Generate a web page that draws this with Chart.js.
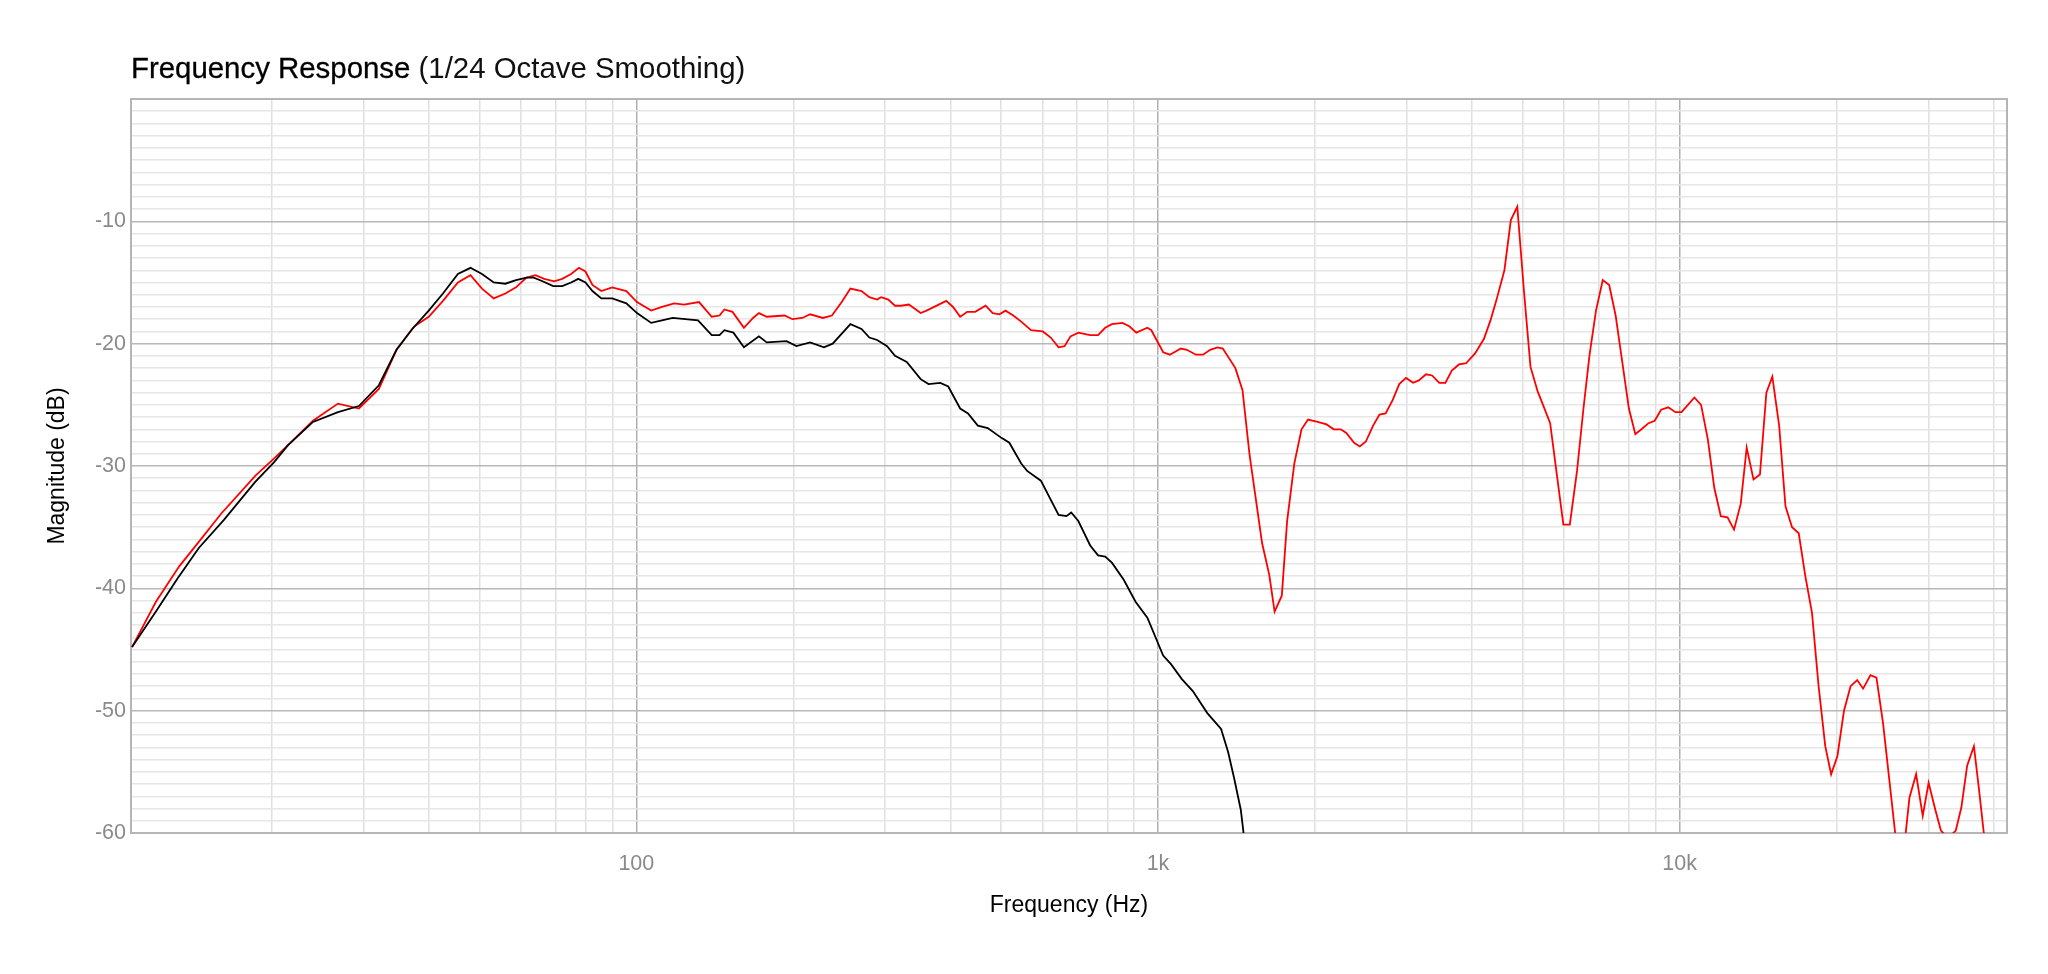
<!DOCTYPE html>
<html>
<head>
<meta charset="utf-8">
<title>Frequency Response</title>
<script src="https://cdn.jsdelivr.net/npm/chart.js@4.4.1/dist/chart.umd.min.js"></script>
<style>
  html, body { margin: 0; padding: 0; background: #fff; }
  #wrap { width: 2048px; height: 974px; }
</style>
</head>
<body>
<div id="wrap"><canvas id="fr" width="2048" height="974"></canvas></div>
<script>
// black trace (Hz / dB)
const blackFreq = [10.8, 12.0, 13.2, 14.5, 16.2, 18.6, 20.2, 21.5, 24.0, 26.8, 29.4, 32.1, 34.7, 37.2, 40.0, 42.6, 45.5, 48.1, 50.6, 53.3,
  56.1, 58.8, 61.6, 63.6, 66.1, 69.3, 72.1, 75.0, 77.4, 79.9, 82.4, 85.7, 89.9, 95.7, 100.3, 106.8, 112.0, 117.4, 131.3, 139.5,
  144.4, 147.5, 153.5, 160.8, 171.8, 177.8, 194.1, 202.7, 215.4, 228.9, 237.9, 257.3, 270.2, 279.7, 289.5, 302.5, 313.2, 329.9, 350.8, 363.2,
  382.6, 396.2, 417.6, 432.3, 451.5, 471.6, 501, 518.8, 546.7, 561.2, 596.3, 644.8, 667.6, 681.8, 703.5, 741.3, 767.5, 792, 815.8, 859.6,
  905.6, 954.1, 1023, 1059, 1110, 1166, 1243, 1321, 1363, 1399, 1441, 1457, 1480];
const blackDb = [-44.8, -41.9, -39.2, -36.7, -34.4, -31.3, -29.7, -28.3, -26.4, -25.6, -25.1, -23.4, -20.5, -18.8, -17.3, -15.9, -14.3, -13.8, -14.3, -15.0,
  -15.1, -14.8, -14.6, -14.6, -14.9, -15.3, -15.3, -15.0, -14.7, -15.0, -15.7, -16.3, -16.3, -16.7, -17.5, -18.3, -18.1, -17.9, -18.1, -19.3,
  -19.3, -18.9, -19.1, -20.3, -19.4, -19.9, -19.8, -20.2, -19.9, -20.3, -20.0, -18.4, -18.8, -19.5, -19.7, -20.2, -21.0, -21.5, -22.9, -23.3,
  -23.2, -23.5, -25.3, -25.7, -26.7, -26.9, -27.7, -28.1, -29.8, -30.4, -31.2, -34.0, -34.1, -33.8, -34.5, -36.5, -37.3, -37.4, -37.9, -39.3,
  -41.1, -42.4, -45.5, -46.2, -47.4, -48.4, -50.2, -51.5, -53.4, -55.5, -58.1, -59.8, -63.0];

// red trace (Hz / dB)
const redFreq = [10.8, 12.0, 13.3, 14.5, 16.0, 18.6, 20.2, 21.5, 24.0, 26.8, 29.4, 32.1, 34.7, 37.5, 40.0, 42.6, 45.5, 48.1, 50.6, 53.3,
  56.1, 58.8, 61.6, 64.1, 66.6, 69.6, 72.1, 75.0, 77.6, 79.9, 82.4, 85.7, 89.9, 95.7, 100.3, 106.8, 112.0, 118.2, 123.4, 131.9,
  139.5, 144.4, 147.5, 152.9, 160.8, 167.4, 171.8, 177.8, 192.4, 199.2, 208.1, 215.4, 227.8, 237.1, 247.6, 257.3, 270.2, 279.7, 289.5, 294.6,
  304.1, 313.2, 321.6, 333.0, 350.8, 360.0, 392.8, 404.6, 417.6, 430.8, 446.1, 467.3, 482.2, 496.7, 510.0, 528.0, 546.7, 570.9, 601.5, 622.8,
  644.8, 662.0, 679.6, 703.5, 741.3, 767.5, 792.0, 815.8, 855.0, 882.2, 908.6, 954.1, 971, 1023, 1054, 1106, 1136, 1182, 1220, 1259,
  1300, 1331, 1407, 1452, 1498, 1583, 1634, 1673, 1727, 1768, 1825, 1884, 1939, 2023, 2104, 2172, 2241, 2296, 2376, 2437,
  2503, 2584, 2658, 2731, 2818, 2900, 2988, 3083, 3162, 3264, 3353, 3461, 3555, 3657, 3775, 3895, 4053, 4215, 4338, 4456,
  4613, 4746, 4883, 5031, 5176, 5342, 5470, 5645, 5826, 5984, 6157, 6356, 6539, 6718, 6911, 7121, 7326, 7537, 7743, 7991,
  8222, 8445, 8716, 8954, 9212, 9507, 9813, 10080, 10370, 10670, 10990, 11320, 11650, 11990, 12350, 12710, 13090, 13440, 13850, 14250,
  14660, 15050, 15510, 15950, 16420, 16910, 17410, 17930, 18460, 19010, 19510, 20060, 20650, 21260, 21890, 22470, 23210, 23830, 24530, 25260,
  26500, 27570, 28390, 29230, 30000, 30900, 31670, 32700, 33820, 34670, 35560, 36640, 37460, 39200];
const redDb = [-44.8, -41.1, -38.2, -36.2, -33.9, -30.8, -29.4, -28.3, -26.3, -24.9, -25.3, -23.7, -20.5, -18.6, -17.8, -16.5, -15.0, -14.4, -15.5, -16.3,
  -15.9, -15.4, -14.6, -14.4, -14.7, -14.9, -14.7, -14.3, -13.8, -14.1, -15.2, -15.7, -15.4, -15.7, -16.6, -17.3, -17.0, -16.7, -16.8, -16.6,
  -17.8, -17.7, -17.2, -17.4, -18.7, -17.9, -17.5, -17.8, -17.7, -18.0, -17.9, -17.6, -17.9, -17.7, -16.6, -15.5, -15.7, -16.2, -16.4, -16.2,
  -16.4, -16.9, -16.9, -16.8, -17.5, -17.3, -16.5, -17.0, -17.8, -17.4, -17.4, -16.9, -17.5, -17.6, -17.3, -17.7, -18.2, -18.9, -19.0, -19.5,
  -20.3, -20.2, -19.4, -19.1, -19.3, -19.3, -18.7, -18.4, -18.3, -18.6, -19.1, -18.7, -18.9, -20.7, -20.9, -20.4, -20.5, -20.9, -20.9, -20.5,
  -20.3, -20.4, -22.0, -23.8, -29.1, -36.3, -38.9, -41.9, -40.6, -34.5, -29.8, -27.0, -26.2, -26.4, -26.6, -27.0, -27.0, -27.3, -28.1, -28.4,
  -28.0, -26.7, -25.8, -25.7, -24.6, -23.3, -22.8, -23.2, -23.0, -22.5, -22.6, -23.2, -23.2, -22.2, -21.7, -21.6, -20.8, -19.6, -18.1, -16.4,
  -14.0, -9.9, -8.8, -15.8, -21.9, -23.9, -25.0, -26.5, -31.0, -34.8, -34.8, -30.4, -25.3, -20.9, -17.3, -14.8, -15.2, -17.7, -21.2, -25.3,
  -27.4, -27.0, -26.5, -26.3, -25.4, -25.2, -25.6, -25.6, -25.0, -24.4, -25.0, -27.8, -31.8, -34.1, -34.2, -35.2, -33.1, -28.5, -31.1, -30.7,
  -24.0, -22.7, -26.7, -33.3, -35.0, -35.5, -39.0, -42.0, -48.0, -52.9, -55.2, -53.7, -50.0, -48.0, -47.5, -48.2, -47.1, -47.3, -51.0, -55.9,
  -64.0, -57.1, -55.2, -58.6, -55.9, -58.1, -59.8, -60.4, -59.8, -57.9, -54.5, -52.9, -56.4, -64.0];

// axes
const xGridTicks = [20, 30, 40, 50, 60, 70, 80, 90, 100, 200, 300, 400, 500, 600, 700, 800, 900,
  1000, 2000, 3000, 4000, 5000, 6000, 7000, 8000, 9000, 10000, 20000, 30000, 40000];
const xTickLabels = { 100: '100', 1000: '1k', 10000: '10k' };
const yLabelTicks = [-10, -20, -30, -40, -50, -60];

const titleMain = 'Frequency Response';
const titleSub = '(1/24 Octave Smoothing)';

const FONT = "'Liberation Sans', Arial, Helvetica, sans-serif";
Chart.defaults.font.family = FONT;

const toPoints = (fs, ds) => fs.map((f, i) => ({ x: f, y: ds[i] }));

const framePlugin = {
  id: 'frame',
  beforeDatasetsDraw(chart) {
    const { ctx, chartArea: a } = chart;
    ctx.save();
    ctx.strokeStyle = '#b5b5b5';
    ctx.lineWidth = 2;
    ctx.strokeRect(a.left, a.top, a.right - a.left, a.bottom - a.top);
    ctx.restore();
  }
};

const titlePlugin = {
  id: 'plotTitle',
  afterDraw(chart) {
    const { ctx, chartArea } = chart;
    ctx.save();
    ctx.font = '29.4px ' + FONT;
    ctx.textBaseline = 'alphabetic';
    ctx.fillStyle = '#000';
    ctx.strokeStyle = '#000';
    ctx.lineWidth = 0.3;
    ctx.fillText(titleMain, chartArea.left, 78);
    ctx.strokeText(titleMain, chartArea.left, 78);
    const w = ctx.measureText(titleMain + ' ').width;
    ctx.fillStyle = '#111';
    ctx.fillText(titleSub, chartArea.left + w, 78);
    ctx.restore();
  }
};

new Chart(document.getElementById('fr').getContext('2d'), {
  type: 'line',
  data: {
    datasets: [
      {
        label: 'black',
        data: toPoints(blackFreq, blackDb),
        borderColor: '#000000',
        borderWidth: 1.8,
        pointRadius: 0,
        tension: 0,
        fill: false
      },
      {
        label: 'red',
        data: toPoints(redFreq, redDb),
        borderColor: '#ff0000',
        borderWidth: 1.8,
        pointRadius: 0,
        tension: 0,
        fill: false
      }
    ]
  },
  options: {
    responsive: false,
    animation: false,
    layout: { padding: { top: 99, right: 41, left: 0, bottom: 0 } },
    plugins: {
      legend: { display: false },
      tooltip: { enabled: false },
      title: { display: false }
    },
    scales: {
      x: {
        type: 'logarithmic',
        min: 10.75,
        max: 42400,
        afterBuildTicks: (axis) => { axis.ticks = xGridTicks.map(v => ({ value: v })); },
        afterFit: (axis) => { axis.height = 141; },
        border: { display: false },
        grid: {
          drawTicks: false,
          lineWidth: 1.5,
          color: (c) => (xTickLabels[c.tick && c.tick.value] ? '#b0b0b0' : '#e0e0e0')
        },
        ticks: {
          autoSkip: false,
          maxRotation: 0,
          padding: 18,
          color: '#8a8a8a',
          font: { size: 21.5 },
          callback: (v) => xTickLabels[v] || ''
        },
        title: {
          display: true,
          text: 'Frequency (Hz)',
          color: '#000',
          font: { size: 23 },
          padding: { top: 0, bottom: 55 }
        }
      },
      y: {
        type: 'linear',
        min: -60,
        max: 0,
        afterFit: (axis) => { axis.width = 131; },
        border: { display: false },
        grid: {
          drawTicks: false,
          lineWidth: 1.5,
          color: (c) => (c.tick && c.tick.value % 10 === 0 ? '#b8b8b8' : '#e6e6e6')
        },
        ticks: {
          stepSize: 1,
          autoSkip: false,
          padding: 5,
          color: '#8a8a8a',
          font: { size: 21.5 },
          callback: (v) => (yLabelTicks.includes(v) ? String(v) : '')
        },
        title: {
          display: true,
          text: 'Magnitude (dB)',
          color: '#000',
          font: { size: 23 },
          padding: { top: 44, bottom: 0 }
        }
      }
    }
  },
  plugins: [framePlugin, titlePlugin]
});
</script>
</body>
</html>
